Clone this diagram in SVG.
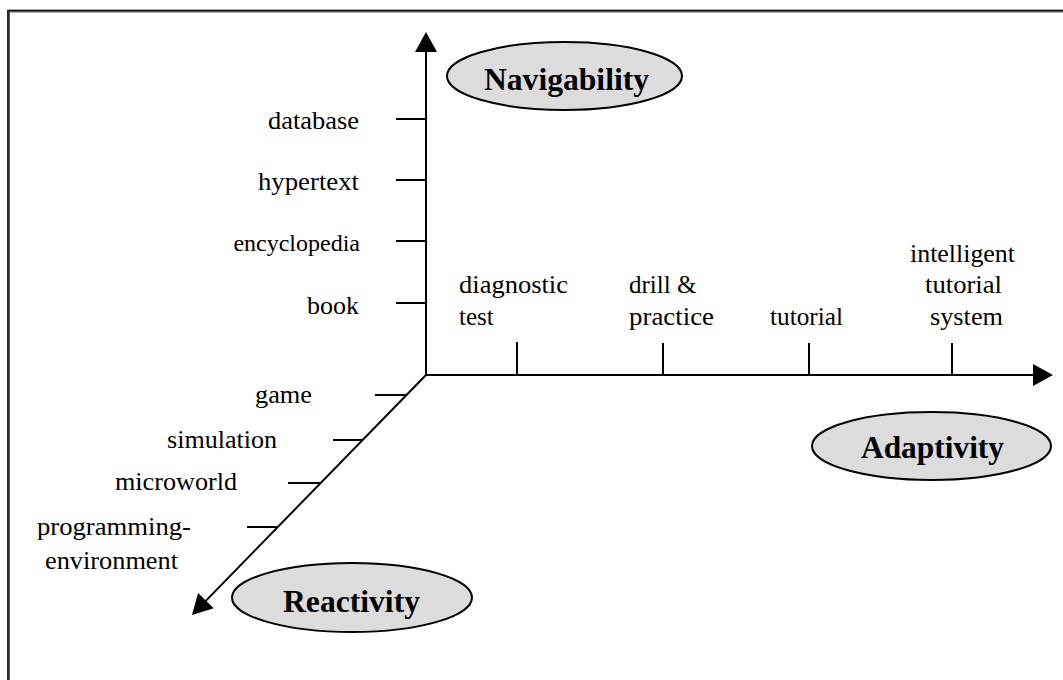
<svg xmlns="http://www.w3.org/2000/svg" width="1063" height="680" viewBox="0 0 1063 680">
<defs>
<marker id="ah" viewBox="0 0 20 22" refX="16" refY="11" markerWidth="20" markerHeight="22" markerUnits="userSpaceOnUse" orient="auto">
<path d="M0,0 L20,11 L0,22 Z" fill="#000"/>
</marker>
<style>
.ax{stroke:#000;stroke-width:2;fill:none}
.tk{stroke:#000;stroke-width:2}
.lb{font-family:"Liberation Serif","Times New Roman",serif;font-size:25px;fill:#000}
.nd ellipse{fill:#dcdcdc;stroke:#000;stroke-width:2}
.nd text{font-family:"Liberation Serif","Times New Roman",serif;font-size:31.5px;font-weight:bold;fill:#000}
</style>
</defs>
<rect width="1063" height="680" fill="#fff"/>
<path d="M8.5,680 V11 H1063" fill="none" stroke="#555" stroke-width="3"/>
<path d="M8,680 V10.5 H1063" fill="none" stroke="#111" stroke-width="1.2"/>

<g id="connectors">
<line class="ax" x1="426" y1="375" x2="426" y2="36" marker-end="url(#ah)"/>
<line class="ax" x1="426" y1="375" x2="1049" y2="375" marker-end="url(#ah)"/>
<line class="ax" x1="426" y1="375" x2="194.8" y2="612.1" marker-end="url(#ah)"/>
</g>

<g id="ticks">
<line class="tk" x1="396" y1="119" x2="426" y2="119"/>
<line class="tk" x1="396" y1="180" x2="426" y2="180"/>
<line class="tk" x1="396" y1="241" x2="426" y2="241"/>
<line class="tk" x1="396" y1="303" x2="426" y2="303"/>
<line class="tk" x1="517" y1="342" x2="517" y2="375"/>
<line class="tk" x1="663" y1="343" x2="663" y2="375"/>
<line class="tk" x1="809" y1="343" x2="809" y2="375"/>
<line class="tk" x1="952" y1="343" x2="952" y2="375"/>
<line class="tk" x1="375" y1="395" x2="406" y2="395"/>
<line class="tk" x1="333" y1="440" x2="362" y2="440"/>
<line class="tk" x1="288" y1="483" x2="320" y2="483"/>
<line class="tk" x1="247" y1="527" x2="277" y2="527"/>
</g>

<g id="labels" class="lb">
<text x="268" y="129" textLength="91" lengthAdjust="spacingAndGlyphs">database</text>
<text x="258" y="190" textLength="101" lengthAdjust="spacingAndGlyphs">hypertext</text>
<text x="360" y="251" text-anchor="end" style="font-size:24px">encyclopedia</text>
<text x="307" y="314" textLength="52" lengthAdjust="spacingAndGlyphs">book</text>
<text x="459" y="293" textLength="109" lengthAdjust="spacingAndGlyphs">diagnostic</text>
<text x="459" y="325">test</text>
<text x="629" y="293">drill &amp;</text>
<text x="629" y="325" textLength="85" lengthAdjust="spacingAndGlyphs">practice</text>
<text x="770" y="325" textLength="73" lengthAdjust="spacingAndGlyphs">tutorial</text>
<text x="910" y="262" textLength="105" lengthAdjust="spacingAndGlyphs">intelligent</text>
<text x="925" y="293" textLength="77" lengthAdjust="spacingAndGlyphs">tutorial</text>
<text x="930" y="325" textLength="73" lengthAdjust="spacingAndGlyphs">system</text>
<text x="255" y="403" textLength="57" lengthAdjust="spacingAndGlyphs">game</text>
<text x="167" y="448" textLength="110" lengthAdjust="spacingAndGlyphs">simulation</text>
<text x="115" y="490" textLength="122" lengthAdjust="spacingAndGlyphs">microworld</text>
<text x="37" y="535" textLength="154" lengthAdjust="spacingAndGlyphs">programming-</text>
<text x="45" y="569" textLength="133" lengthAdjust="spacingAndGlyphs">environment</text>
</g>

<g id="navigability" class="nd">
<ellipse cx="564.5" cy="76" rx="117.5" ry="34"/>
<text x="484" y="90" textLength="165" lengthAdjust="spacingAndGlyphs">Navigability</text>
</g>
<g id="adaptivity" class="nd">
<ellipse cx="931.5" cy="446" rx="119.5" ry="34"/>
<text x="861" y="458" textLength="143" lengthAdjust="spacingAndGlyphs">Adaptivity</text>
</g>
<g id="reactivity" class="nd">
<ellipse cx="352" cy="597.5" rx="120" ry="34.5"/>
<text x="283" y="612" textLength="137" lengthAdjust="spacingAndGlyphs">Reactivity</text>
</g>
</svg>
